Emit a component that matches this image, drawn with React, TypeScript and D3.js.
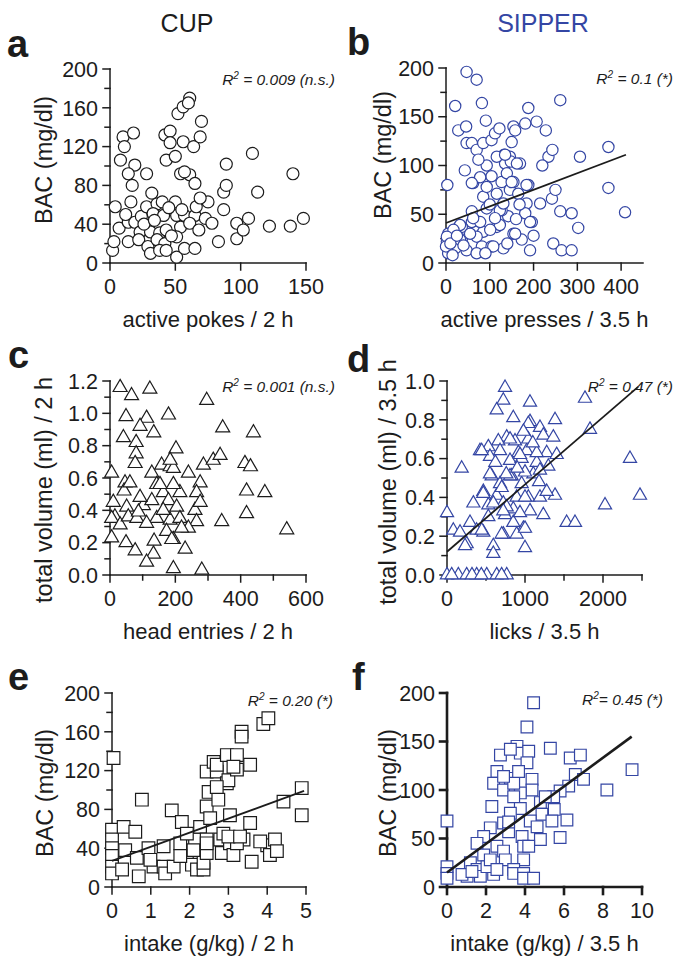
import * as d3 from "d3";

const BLUE = "#3446a4";
const INK = "#1c1c1c";
const FONT = "'Liberation Sans', Arial, sans-serif";

type Pt = [number, number];

// a: CUP - BAC vs active pokes / 2 h
const pokesBac: Pt[] = [
  [4,58],[2,13],[3,22],[7,36],[10,130],[11,120],[8,106],[18,134],[19,101],[14,92],[17,80],[28,92],[16,63],
  [14,42],[19,42],[24,48],[28,58],[32,72],[36,61],[40,63],[50,63],[33,51],[41,49],[51,49],[57,49],[65,49],
  [73,46],[75,63],[66,58],[69,67],[23,32],[31,32],[38,31],[43,34],[54,37],[61,41],[68,34],[78,41],[14,22],
  [22,24],[29,17],[36,24],[42,20],[51,27],[51,6],[57,15],[65,15],[31,10],[38,13],[43,13],[83,22],[97,25],
  [97,41],[102,34],[106,46],[87,55],[87,73],[89,80],[113,73],[54,92],[61,91],[65,82],[43,106],[57,94],
  [89,102],[42,132],[46,136],[46,124],[50,110],[56,125],[52,154],[56,161],[61,170],[64,120],[69,130],
  [70,146],[109,113],[122,38],[138,38],[140,92],[148,46],[60,165],[45,57],[26,40],[47,28],[34,44],[55,55],[12,50],
];

// b: SIPPER - BAC vs active presses / 3.5 h
const pressesBac: Pt[] = [
  [47,196],[70,188],[21,161],[82,164],[188,159],[261,167],[28,136],[46,140],[91,146],[47,123],[59,123],[70,116],
  [85,123],[104,126],[112,133],[122,138],[154,140],[158,136],[150,124],[181,143],[207,145],[228,136],[234,109],
  [243,116],[306,109],[371,119],[371,77],[409,52],[43,95],[3,80],[62,82],[85,68],[93,100],[74,106],[133,111],
  [146,109],[135,102],[148,104],[169,102],[127,83],[146,75],[165,71],[188,80],[184,61],[215,61],[242,66],
  [250,75],[261,53],[287,51],[302,36],[245,20],[264,13],[287,13],[192,13],[196,42],[181,51],[142,48],[127,54],
  [116,37],[85,32],[66,44],[59,42],[36,37],[21,34],[5,30],[2,22],[5,10],[21,15],[36,24],[70,27],[82,17],
  [104,17],[131,15],[154,30],[173,24],[116,71],[104,89],[139,92],[154,83],[78,88],[59,82],[184,80],[123,54],
  [93,56],[59,53],[32,39],[17,34],[2,27],[0,17],[32,24],[55,30],[108,17],[158,30],[192,42],[123,39],[101,34],
  [78,42],[47,13],[70,10],[62,46],[131,61],[93,78],[150,83],[116,109],[135,111],[162,102],[10,20],[15,8],
  [25,28],[40,18],[90,10],[112,46],[140,20],[160,45],[200,28],[220,100],[100,60],[168,60],
];
const pressesFit: Pt[] = [[0, 41], [411, 111]];

// c: CUP - total volume vs head entries / 2 h
const entriesVolume: Pt[] = [
  [31,1.16],[66,1.11],[122,1.15],[49,0.98],[112,0.97],[92,0.92],[41,0.85],[134,0.88],[80,0.82],[80,0.75],
  [179,0.99],[202,0.78],[296,1.08],[345,0.91],[439,0.88],[77,0.69],[5,0.63],[46,0.57],[43,0.52],[158,0.68],
  [184,0.67],[194,0.66],[128,0.63],[240,0.63],[286,0.68],[316,0.71],[337,0.74],[413,0.69],[430,0.67],
  [418,0.52],[474,0.51],[276,0.57],[265,0.51],[214,0.51],[163,0.51],[143,0.56],[102,0.43],[128,0.46],
  [179,0.46],[204,0.42],[260,0.4],[51,0.42],[15,0.36],[5,0.35],[31,0.31],[56,0.36],[82,0.35],[143,0.35],
  [184,0.34],[214,0.35],[265,0.33],[342,0.33],[418,0.38],[541,0.28],[240,0.29],[173,0.27],[5,0.23],[49,0.2],
  [135,0.21],[194,0.22],[77,0.15],[133,0.13],[230,0.16],[112,0.08],[194,0.04],[281,0.03],[61,0.57],[92,0.48],
  [163,0.4],[219,0.29],[189,0.22],[276,0.45],[184,0.71],[153,0.56],[87,0.39],[10,0.45],[112,0.32],[194,0.56],
];

// d: SIPPER - total volume vs licks / 3.5 h
const licksVolume: Pt[] = [
  [744,0.966],[722,0.9],[1064,0.89],[637,0.85],[850,0.81],[1769,0.91],[1385,0.8],[1064,0.79],[1192,0.76],
  [1833,0.75],[1235,0.72],[1363,0.71],[765,0.71],[658,0.69],[872,0.69],[423,0.64],[530,0.66],[680,0.64],
  [915,0.63],[1021,0.64],[1278,0.63],[1406,0.62],[188,0.55],[551,0.61],[808,0.59],[957,0.6],[1150,0.58],
  [1299,0.56],[2346,0.6],[573,0.51],[829,0.51],[1107,0.52],[680,0.47],[957,0.47],[466,0.43],[637,0.41],
  [338,0.37],[893,0.4],[1043,0.4],[1192,0.4],[1385,0.41],[1278,0.43],[2474,0.41],[2026,0.36],[530,0.36],
  [722,0.37],[850,0.34],[1064,0.33],[1235,0.31],[0,0.32],[295,0.27],[530,0.3],[744,0.31],[1534,0.27],
  [1641,0.27],[81,0.23],[167,0.22],[380,0.23],[466,0.22],[722,0.21],[979,0.24],[850,0.27],[252,0.16],
  [594,0.15],[594,0.11],[1000,0.14],[0,0],[145,0],[252,0],[380,0],[509,0],[637,0],[765,0],[60,0],[320,0],
  [440,0],[700,0],[1042,0.78],[808,0.7],[1042,0.7],[445,0.64],[936,0.62],[1150,0.63],[551,0.52],[808,0.51],
  [1000,0.53],[1192,0.54],[701,0.45],[465,0.42],[1000,0.4],[594,0.37],[765,0.35],[722,0.33],[936,0.32],
  [445,0.23],[701,0.21],[893,0.21],[1000,0.24],[231,0.15],[900,0.55],[620,0.58],[760,0.52],[1100,0.68],
  [980,0.74],[1180,0.48],
];
const licksFit: Pt[] = [[0, 0.12], [2450, 0.97]];

// e: CUP - BAC vs intake (g/kg) / 2 h
const cupIntakeBac: Pt[] = [
  [0.04,133],[0.77,90],[0,59],[0,49],[0,40],[0,32],[0,21],[0,14],[0.3,62],[0.34,38],[0.6,57],[0.26,18],
  [0.64,30],[0.69,11],[0.94,40],[1.07,21],[1.33,21],[1.37,14],[1.59,21],[1.54,79],[1.8,67],[1.33,42],
  [1.76,45],[1.93,32],[2.06,23],[2.19,18],[2.36,18],[2.36,25],[2.14,49],[2.27,62],[2.44,49],[2.44,35],
  [2.44,119],[2.49,98],[2.44,83],[2.53,71],[2.62,129],[2.7,119],[2.74,90],[2.7,126],[2.79,49],[2.83,35],
  [2.96,107],[3.0,110],[2.96,136],[3.04,74],[3.04,45],[3.13,33],[3.22,136],[3.22,121],[3.34,160],[3.34,155],
  [3.56,126],[3.56,66],[3.39,49],[3.22,45],[3.6,26],[3.9,168],[4.03,174],[4.0,43],[4.07,33],[4.2,49],
  [4.25,37],[4.42,88],[4.89,102],[4.89,74],[2.87,55],[1.93,55],[2.1,38],[2.44,45],[1.76,32],[0.99,28],
  [3.0,52],[3.3,52],[3.82,47],[2.7,103],[3.13,124],
];
const cupIntakeFit: Pt[] = [[0, 27], [4.95, 99]];

// f: SIPPER - BAC vs intake (g/kg) / 3.5 h
const sipperIntakeBac: Pt[] = [
  [0,68],[0,21],[0,14],[0,9],[4.44,190],[4.1,165],[3.59,145],[3.76,138],[2.74,136],[3.25,142],[4.19,140],
  [4.1,128],[5.3,143],[2.56,119],[3.25,112],[2.39,107],[2.9,100],[4.36,111],[4.36,100],[3.76,97],[3.42,93],
  [6.32,133],[6.84,136],[6.58,116],[7.0,111],[6.24,104],[8.2,100],[9.49,121],[5.8,99],[5.47,93],[4.79,87],
  [3.76,81],[3.25,76],[4.87,75],[5.5,80],[6.15,69],[5.38,68],[4.27,68],[2.22,61],[2.9,66],[1.88,52],
  [1.54,45],[3.16,57],[3.85,52],[4.79,49],[5.8,51],[2.56,42],[2.9,37],[2.99,28],[3.93,42],[3.93,28],
  [1.88,33],[1.2,25],[1.54,18],[1.03,11],[1.71,11],[2.39,13],[2.05,21],[3.42,18],[3.42,14],[3.93,14],
  [3.93,9],[4.44,9],[2.22,28],[2.56,18],[4.62,62],[2.3,83],[3.42,107],[3.67,119],[2.9,114],[5.04,93],
  [3.16,67],[4.19,42],[0.77,13],[1.28,16],
];
const sipperIntakeFit: Pt[] = [[0, 15], [9.47, 155]];

const bac40 = [0, 40, 80, 120, 160, 200];
const bac50 = [0, 50, 100, 150, 200];
const vol12 = [0, 0.2, 0.4, 0.6, 0.8, 1.0, 1.2];
const vol10 = [0, 0.2, 0.4, 0.6, 0.8, 1.0];

interface PanelProps {
  letter: string;
  letterAt: Pt;
  points: Pt[];
  fit?: Pt[];
  xDomain: Pt;
  yDomain: Pt;
  xRange: Pt;
  yRange: Pt;
  xTicks: number[];
  yTicks: number[];
  xMinor?: number[];
  yMinor?: number[];
  yFmt?: (v: number) => string;
  xTitle: string;
  yTitle: string;
  yTitleAt: Pt;
  r2: string;
  r2Gap?: boolean;
  r2At: Pt;
  shape: d3.SymbolType;
  size: number;
  color: string;
  heavy?: boolean;
}

function Panel(p: PanelProps) {
  const x = d3.scaleLinear().domain(p.xDomain).range(p.xRange);
  const y = d3.scaleLinear().domain(p.yDomain).range(p.yRange);
  const sw = p.heavy ? 2.6 : 1.5;
  const tk = 7;
  const sym = d3.symbol().type(p.shape).size(p.size)() as string;
  const line = d3.line<Pt>().x((d) => x(d[0])).y((d) => y(d[1]));
  const yf = p.yFmt ?? ((v: number) => String(v));
  const [x0, x1] = p.xRange;
  const [y0, y1] = p.yRange;
  return (
    <g fontFamily={FONT} fill={INK}>
      <text x={p.letterAt[0]} y={p.letterAt[1]} fontSize={38} fontWeight="bold">{p.letter}</text>

      {/* axes */}
      <g stroke={INK} strokeWidth={sw} strokeLinecap="square" fill="none">
        <line x1={x0} x2={x0} y1={y0} y2={y1} />
        <line x1={x0} x2={x1} y1={y0} y2={y0} />
        {p.yTicks.map((t) => <line key={"y" + t} x1={x0 - tk} x2={x0} y1={y(t)} y2={y(t)} />)}
        {(p.yMinor ?? []).map((t) => <line key={"ym" + t} x1={x0 - tk + 2} x2={x0} y1={y(t)} y2={y(t)} />)}
        {p.xTicks.map((t) => <line key={"x" + t} x1={x(t)} x2={x(t)} y1={y0} y2={y0 + tk} />)}
        {(p.xMinor ?? []).map((t) => <line key={"xm" + t} x1={x(t)} x2={x(t)} y1={y0} y2={y0 + tk - 2} />)}
      </g>
      {p.yTicks.map((t) => (
        <text key={"yl" + t} x={x0 - 12} y={y(t)} dy="0.36em" textAnchor="end" fontSize={21.5}>{yf(t)}</text>
      ))}
      {p.xTicks.map((t) => (
        <text key={"xl" + t} x={x(t)} y={y0 + 31} textAnchor="middle" fontSize={21.5}>{t}</text>
      ))}
      <text x={(x0 + x1) / 2} y={y0 + 64} textAnchor="middle" fontSize={22}>{p.xTitle}</text>
      <text transform={`translate(${p.yTitleAt[0]},${p.yTitleAt[1]}) rotate(-90)`} dy="0.36em" textAnchor="middle" fontSize={23.5}>{p.yTitle}</text>

      {/* points */}
      {p.points.map((d, i) => (
        <path key={i} d={sym} transform={`translate(${x(d[0])},${y(d[1])})`} fill="white" stroke={p.color} strokeWidth={1.2} />
      ))}
      {p.fit && <path d={line(p.fit) as string} fill="none" stroke={INK} strokeWidth={p.heavy ? 2.6 : 1.8} />}

      <text x={p.r2At[0]} y={p.r2At[1]} textAnchor="end" fontSize={15.5} fontStyle="italic">
        R<tspan fontSize={10} dy={-6}>2</tspan><tspan dy={6}>{p.r2Gap === false ? "= " : " = "}{p.r2}</tspan>
      </text>
    </g>
  );
}

export default function App() {
  const f1 = d3.format(".1f");
  return (
    <svg width={678} height={961} style={{ position: "absolute", left: 0, top: 0, background: "white" }}>
      <rect width={678} height={961} fill="white" />
      <text x={187} y={32} textAnchor="middle" fontSize={25} fontFamily={FONT} fill={INK}>CUP</text>
      <text x={543} y={32} textAnchor="middle" fontSize={25} fontFamily={FONT} fill={BLUE}>SIPPER</text>

      <Panel letter="a" letterAt={[7, 57]} points={pokesBac} xDomain={[0, 150]} yDomain={[0, 200]}
        xRange={[110, 306]} yRange={[263, 69]} xTicks={[0, 50, 100, 150]} yTicks={bac40}
        yMinor={[20, 60, 100, 140, 180]} xTitle="active pokes / 2 h" yTitle="BAC (mg/dl)" yTitleAt={[44, 160]}
        r2="0.009 (n.s.)" r2At={[335, 85]} shape={d3.symbolCircle} size={113} color={INK} />

      <Panel letter="b" letterAt={[347, 55]} points={pressesBac} fit={pressesFit} xDomain={[0, 450]} yDomain={[0, 200]}
        xRange={[446, 643]} yRange={[263, 68]} xTicks={[0, 100, 200, 300, 400]} yTicks={bac50}
        yMinor={[25, 75, 125, 175]} xTitle="active presses / 3.5 h" yTitle="BAC (mg/dl)" yTitleAt={[383, 155]}
        r2="0.1 (*)" r2At={[673, 84]} shape={d3.symbolCircle} size={100} color={BLUE} />

      <Panel letter="c" letterAt={[8, 368]} points={entriesVolume} xDomain={[0, 600]} yDomain={[0, 1.2]}
        xRange={[110, 306]} yRange={[575, 381]} xTicks={[0, 200, 400, 600]} xMinor={[100, 300, 500]} yTicks={vol12}
        yMinor={[0.1, 0.3, 0.5, 0.7, 0.9, 1.1]} yFmt={f1} xTitle="head entries / 2 h" yTitle="total volume (ml) / 2 h"
        yTitleAt={[44, 490]} r2="0.001 (n.s.)" r2At={[335, 392]} shape={d3.symbolTriangle} size={85} color={INK} />

      <Panel letter="d" letterAt={[347, 372]} points={licksVolume} fit={licksFit} xDomain={[0, 2500]} yDomain={[0, 1.0]}
        xRange={[447, 642]} yRange={[575, 381]} xTicks={[0, 1000, 2000]} xMinor={[500, 1500, 2500]} yTicks={vol10}
        yMinor={[0.1, 0.3, 0.5, 0.7, 0.9]} yFmt={f1} xTitle="licks / 3.5 h" yTitle="total volume (ml) / 3.5 h"
        yTitleAt={[388, 482]} r2="0.47 (*)" r2At={[673, 392]} shape={d3.symbolTriangle} size={75} color={BLUE} />

      <Panel letter="e" letterAt={[8, 690]} points={cupIntakeBac} fit={cupIntakeFit} xDomain={[0, 5]} yDomain={[0, 200]}
        xRange={[112, 306]} yRange={[887, 693]} xTicks={[0, 1, 2, 3, 4, 5]} yTicks={bac40}
        yMinor={[20, 60, 100, 140, 180]} xTitle="intake (g/kg) / 2 h" yTitle="BAC (mg/dl)" yTitleAt={[45, 793]}
        r2="0.20 (*)" r2At={[333, 706]} shape={d3.symbolSquare} size={160} color={INK} />

      <Panel letter="f" letterAt={[352, 690]} points={sipperIntakeBac} fit={sipperIntakeFit} xDomain={[0, 10]} yDomain={[0, 200]}
        xRange={[447, 642]} yRange={[887, 693]} xTicks={[0, 2, 4, 6, 8, 10]} yTicks={bac50}
        xTitle="intake (g/kg) / 3.5 h" yTitle="BAC (mg/dl)" yTitleAt={[388, 793]}
        r2="0.45 (*)" r2Gap={false} r2At={[663, 705]} shape={d3.symbolSquare} size={137} color={BLUE} heavy />
    </svg>
  );
}
